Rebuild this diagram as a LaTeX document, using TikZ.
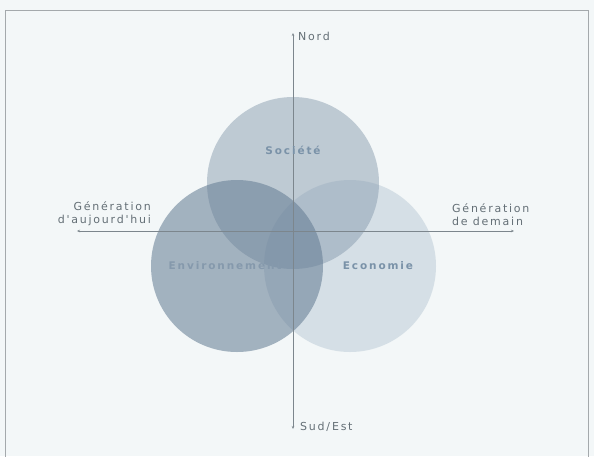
\documentclass[tikz,border=0pt]{standalone}
\usepackage{fontspec}
\setmainfont{DejaVu Sans}
\newfontfamily\axfont{DejaVu Sans}[LetterSpace=16]
\newfontfamily\cfont{DejaVu Sans Bold}[LetterSpace=18]
\usetikzlibrary{positioning,arrows.meta}
\definecolor{bgc}{HTML}{F3F7F8}
\definecolor{framec}{HTML}{A4A9AC}
\definecolor{socc}{HTML}{8599AC}
\definecolor{envc}{HTML}{647C93}
\definecolor{ecoc}{HTML}{B9C9D5}
\definecolor{axc}{HTML}{7C868D}
\definecolor{txtc}{HTML}{646F76}
\definecolor{inc}{HTML}{7A92A8}
\definecolor{envt}{HTML}{8599AC}
\tikzset{
  axis/.style={axc,line width=0.7pt,{Stealth[length=3pt,width=2.5pt]}-{Stealth[length=3pt,width=2.5pt]}},
  axlbl/.style={txtc,font=\axfont\fontsize{11}{13}\selectfont,inner sep=0pt},
  inlbl/.style={inc,font=\cfont\fontsize{10.5}{12}\selectfont,inner sep=0pt}
}
\begin{document}
\begin{tikzpicture}[x=1pt,y=-1pt]
\useasboundingbox (0,0) rectangle (594,456);
\fill[bgc] (0,0) rectangle (594,456);
\draw[framec,line width=1pt] (5,470) -- (5,10) -- (588,10) -- (588,470);
% circles
\fill[ecoc,fill opacity=.5] (350,266) circle (86pt);
\fill[socc,fill opacity=.48] (293,183) circle (86pt);
\fill[envc,fill opacity=.56] (237,266) circle (86pt);
% axes
\coordinate (n) at (293,33);
\coordinate (s) at (293,429);
\coordinate (w) at (77,231);
\coordinate (e) at (514,231);
\draw[axis] (w) -- (e);
\draw[axis] (n) -- (s);
% labels
\node[axlbl,anchor=west] at (298,36) (nord) {Nord};
\node[axlbl,anchor=west] at (300,427) (sud) {Sud\,/\,Est};
\node[axlbl,anchor=east,align=right] at (151,214) (auj) {Génération\\d'aujourd'hui};
\node[axlbl,anchor=west,align=left] at (452,215) (dem) {Génération\\de demain};
\node[inlbl] at (293,150) (soc) {Société};
\node[inlbl,envt] at (225,266) (env) {Environnement};
\node[inlbl] at (378,266) (eco) {Economie};
\end{tikzpicture}
\end{document}
